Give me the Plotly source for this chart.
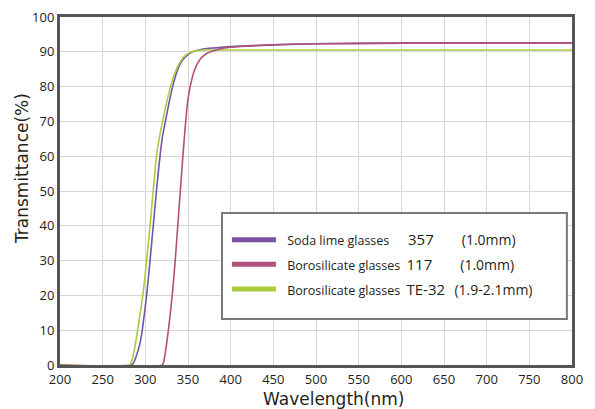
import plotly.graph_objects as go

#@ Transmittance curves
wl_soda = [200, 284, 287, 290, 293, 295.5, 298, 301.5, 305.5, 309.3, 313, 317.2, 320, 323.5, 327.5, 332, 337, 343, 350, 358, 368, 380, 400, 450, 500, 600, 800]
tr_soda = [0, 0, 1, 3, 5.5, 8.5, 13, 20, 30, 40, 50, 60, 65.5, 70, 75, 80, 84.3, 87.4, 89.2, 90.2, 90.8, 91.1, 91.5, 92, 92.3, 92.5, 92.5]

wl_boro = [200, 320, 322, 324, 327, 331.5, 335, 338, 341, 344, 347.3, 349.5, 352.5, 358, 364, 372, 384, 400, 450, 500, 600, 800]
tr_boro = [0, 0, 1.5, 4.5, 10, 20, 30, 40, 50, 60, 70, 75.5, 80, 85, 87.8, 89.5, 90.6, 91.3, 92, 92.3, 92.5, 92.5]

wl_te32 = [200, 281, 283, 285, 288, 291, 297, 301.5, 305.5, 309.2, 313, 317.3, 321.5, 325.5, 329.5, 334, 339, 345, 352, 360, 370, 380, 400, 500, 800]
tr_te32 = [0, 0, 0.5, 2, 5.5, 10, 20, 30, 40, 50, 60, 66.5, 71.5, 76, 80, 83.5, 86.3, 88.5, 89.8, 90.3, 90.5, 90.5, 90.5, 90.5, 90.5]

x_ticks = list(range(200, 801, 50))
y_ticks = list(range(0, 101, 10))

names = ['Soda lime glasses', 'Borosilicate glasses', 'Borosilicate glasses']
codes = ['357', '117', 'TE-32']
sizes = ['(1.0mm)', '(1.0mm)', '(1.9-2.1mm)']
colors = ['#7a52a4', '#b0507c', '#a9cd3f']

NB = '\u00a0'
gap1 = [6, 2, 2]
gap2 = [9, 9, 3]

fig = go.Figure()

#$ Curves
for wl, tr, c in [(wl_soda, tr_soda, colors[0]), (wl_te32, tr_te32, colors[2]), (wl_boro, tr_boro, colors[1])]:
    fig.add_trace(go.Scatter(x=wl, y=tr, mode='lines', showlegend=False, hoverinfo='skip',
                             line=dict(color=c, width=1.6, shape='spline', smoothing=0.6)))

#$ Legend entries (thick samples)
for i in range(3):
    label = (f'<span style="font-size:12px">{NB*2}</span>'
             f'<span style="font-size:12.5px">{names[i]}</span>'
             f'<span style="font-size:12px">{NB*gap1[i]}</span>'
             f'<span style="font-size:15px">{codes[i]}</span>'
             f'<span style="font-size:12px">{NB*gap2[i]}</span>'
             f'<span style="font-size:14px">{sizes[i]}</span>')
    fig.add_trace(go.Scatter(x=[None], y=[None], mode='lines', name=label, legendgroup=str(i),
                             line=dict(color=colors[i], width=5)))

#$ Legend frame
fig.add_shape(type='rect', xref='paper', yref='paper', x0=0.3164, x1=0.990, y0=0.1322, y1=0.4368,
              line=dict(color='#7a7a7a', width=2), fillcolor='white', layer='above')

#$ Axis titles
fig.add_annotation(text='Wavelength(nm)', xref='paper', yref='paper', x=0.535, y=-0.0977,
                   xanchor='center', yanchor='middle', showarrow=False,
                   font=dict(size=17, family='DejaVu Sans', color='#231f20'))
fig.add_annotation(text='Transmittance(%)', xref='paper', yref='paper', x=-0.0742, y=0.563,
                   xanchor='center', yanchor='middle', showarrow=False, textangle=-90,
                   font=dict(size=17, family='DejaVu Sans', color='#231f20'))

# the page body has an 8px margin, so the figure is drawn 8px smaller
fig.update_layout(
    width=587, height=401,
    margin=dict(l=52, r=23, t=9, b=44),
    paper_bgcolor='white', plot_bgcolor='white',
    font=dict(family='Open Sans, Noto Sans, sans-serif', color='#231f20', size=13),
    legend=dict(x=0.326, y=0.405, xanchor='left', yanchor='top',
                borderwidth=0, bgcolor='rgba(0,0,0,0)',
                tracegroupgap=3.5, itemwidth=44,
                font=dict(size=14, color='#231f20')),
)
fig.update_xaxes(range=[200, 800], tickvals=x_ticks, showgrid=True, gridcolor='#d6d6d6', gridwidth=1,
                 showline=True, linecolor='#555555', linewidth=3, mirror=True, zeroline=False,
                 ticks='', tickfont=dict(size=13), automargin=False, ticklabeloverflow='allow')
fig.update_yaxes(range=[0, 100], tickvals=y_ticks, showgrid=True, gridcolor='#d6d6d6', gridwidth=1,
                 showline=True, linecolor='#555555', linewidth=3, mirror=True, zeroline=False,
                 ticks='', tickfont=dict(size=13), automargin=False, ticklabeloverflow='allow')

fig.write_html("out.html")
